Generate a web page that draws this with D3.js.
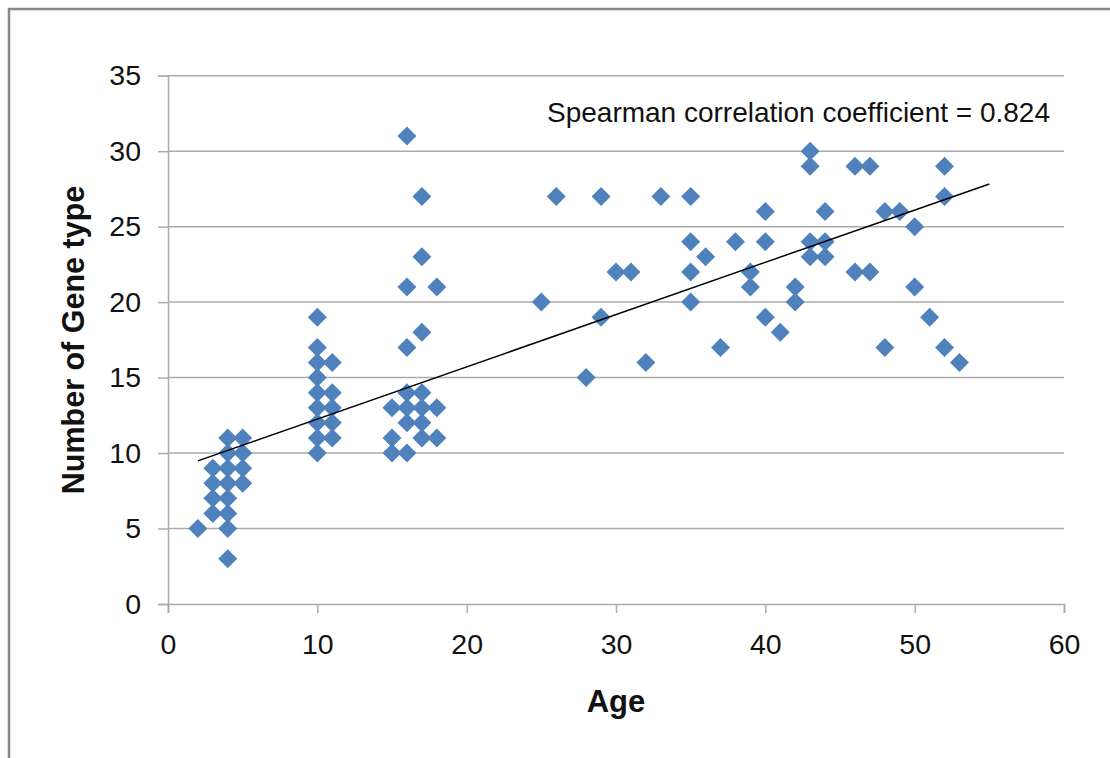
<!DOCTYPE html>
<html>
<head>
<meta charset="utf-8">
<script src="https://cdn.jsdelivr.net/npm/d3@7"></script>
<style>
  body { margin: 0; background: #fff; }
  svg { display: block; font-family: "Liberation Sans", Arial, sans-serif; }
</style>
</head>
<body>
<div id="chart"></div>
<script>
// ---- data ----
const ages = [
  2,
  3, 3, 3, 3,
  4, 4, 4, 4, 4, 4, 4, 4,
  5, 5, 5, 5,
  10, 10, 10, 10, 10, 10, 10, 10, 10,
  11, 11, 11, 11, 11,
  15, 15, 15,
  16, 16, 16, 16, 16, 16, 16,
  17, 17, 17, 17, 17, 17, 17,
  18, 18, 18,
  25, 26, 28, 29, 29, 30, 31, 32, 33,
  35, 35, 35, 35, 36, 37, 38, 39, 39,
  40, 40, 40, 41, 42, 42,
  43, 43, 43, 43, 44, 44, 44,
  46, 46, 47, 47, 48, 48, 49, 50, 50, 51,
  52, 52, 52, 53
];
const geneTypes = [
  5,
  6, 7, 8, 9,
  3, 5, 6, 7, 8, 9, 10, 11,
  8, 9, 10, 11,
  10, 11, 12, 13, 14, 15, 16, 17, 19,
  11, 12, 13, 14, 16,
  10, 11, 13,
  10, 12, 13, 14, 17, 21, 31,
  11, 12, 13, 14, 18, 23, 27,
  11, 13, 21,
  20, 27, 15, 19, 27, 22, 22, 16, 27,
  20, 22, 24, 27, 23, 17, 24, 21, 22,
  19, 24, 26, 18, 20, 21,
  23, 24, 29, 30, 23, 24, 26,
  22, 29, 22, 29, 17, 26, 26, 21, 25, 19,
  17, 27, 29, 16
];
const xTicks = [0, 10, 20, 30, 40, 50, 60];
const yTicks = [0, 5, 10, 15, 20, 25, 30, 35];
// linear trendline ends, as drawn in the original
const trendAges = [2, 55];
const trendValues = [9.48, 27.83];
const note = "Spearman correlation coefficient = 0.824";

const points = ages.map((a, i) => ({ age: a, genes: geneTypes[i] }));

const width = 1110, height = 758;
const margin = { top: 75.7, right: 46, bottom: 154, left: 168 };

const svg = d3.select("#chart").append("svg")
  .attr("width", width)
  .attr("height", height);

// outer chart frame (runs off the right/bottom edge)
svg.append("rect")
  .attr("x", 9).attr("y", 9)
  .attr("width", 1200).attr("height", 900)
  .attr("fill", "none")
  .attr("stroke", "#878787")
  .attr("stroke-width", 2.5);

const x = d3.scaleLinear()
  .domain([0, 60])
  .range([margin.left, width - margin.right]);

const y = d3.scaleLinear()
  .domain([0, 35])
  .range([height - margin.bottom, margin.top]);

const gridColor = "#ababab";

// horizontal gridlines
svg.append("g")
  .selectAll("line")
  .data(yTicks.slice(1))
  .join("line")
  .attr("x1", x(0)).attr("x2", x(60))
  .attr("y1", d => y(d)).attr("y2", d => y(d))
  .attr("stroke", gridColor)
  .attr("stroke-width", 1.5);

// y axis
const yAxis = svg.append("g")
  .attr("transform", `translate(${x(0)},0)`)
  .call(d3.axisLeft(y).tickValues(yTicks).tickSize(10).tickPadding(17));
yAxis.select(".domain").attr("stroke", gridColor).attr("stroke-width", 1.5);
yAxis.selectAll(".tick line").attr("stroke", gridColor).attr("stroke-width", 1.5);
yAxis.selectAll(".tick text")
  .attr("font-size", 28.5)
  .attr("font-family", "Liberation Sans, Arial, sans-serif")
  .attr("fill", "#111");

// x axis
const xAxis = svg.append("g")
  .attr("transform", `translate(0,${y(0)})`)
  .call(d3.axisBottom(x).tickValues(xTicks).tickSize(9).tickPadding(21));
xAxis.select(".domain").attr("stroke", gridColor).attr("stroke-width", 1.5);
xAxis.selectAll(".tick line").attr("stroke", gridColor).attr("stroke-width", 1.5);
xAxis.selectAll(".tick text")
  .attr("font-size", 28.5)
  .attr("font-family", "Liberation Sans, Arial, sans-serif")
  .attr("fill", "#111");

// markers
svg.append("g")
  .selectAll("path")
  .data(points)
  .join("path")
  .attr("transform", d => `translate(${x(d.age)},${y(d.genes)})`)
  .attr("d", "M0,-9.5L9.5,0L0,9.5L-9.5,0Z")
  .attr("fill", "#4f81bd");

// trendline
svg.append("line")
  .attr("x1", x(trendAges[0])).attr("y1", y(trendValues[0]))
  .attr("x2", x(trendAges[1])).attr("y2", y(trendValues[1]))
  .attr("stroke", "#000")
  .attr("stroke-width", 1.5);

// annotation
svg.append("text")
  .attr("x", 547).attr("y", 122)
  .attr("font-size", 28)
  .attr("fill", "#111")
  .text(note);

// axis titles
svg.append("text")
  .attr("x", 616).attr("y", 712)
  .attr("text-anchor", "middle")
  .attr("font-size", 31)
  .attr("font-weight", "bold")
  .attr("fill", "#111")
  .text("Age");

svg.append("text")
  .attr("transform", "translate(84,340) rotate(-90)")
  .attr("text-anchor", "middle")
  .attr("font-size", 30.5)
  .attr("font-weight", "bold")
  .attr("fill", "#111")
  .text("Number of Gene type");
</script>
</body>
</html>
